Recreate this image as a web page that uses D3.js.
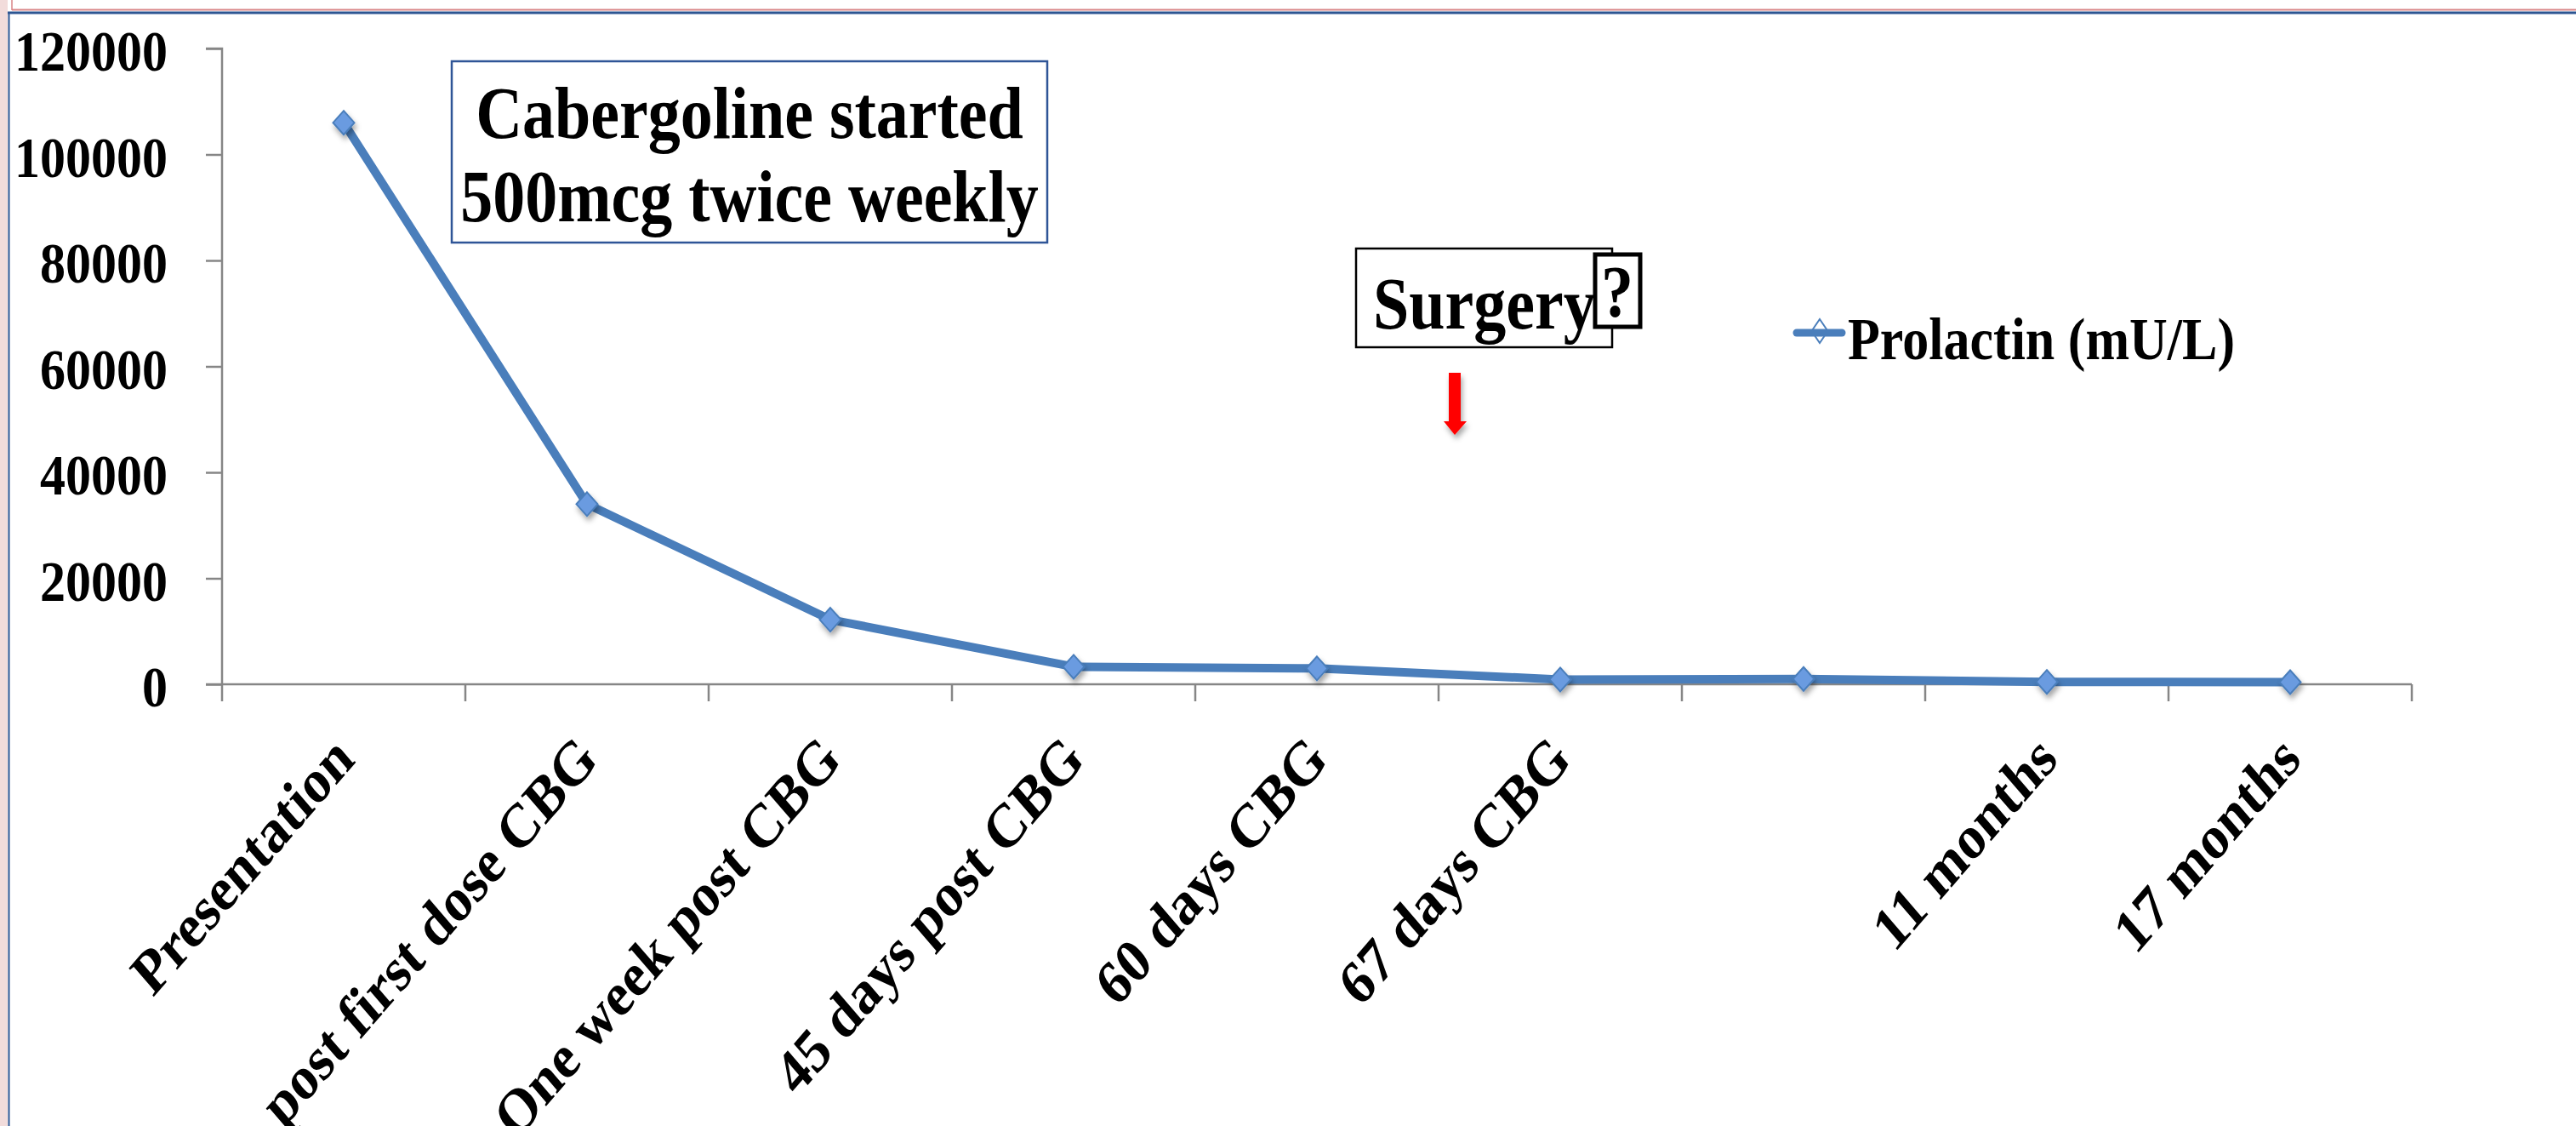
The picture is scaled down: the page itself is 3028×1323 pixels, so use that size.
<!DOCTYPE html>
<html>
<head>
<meta charset="utf-8">
<script src="https://cdn.jsdelivr.net/npm/d3@7"></script>
<style>
  html, body { margin: 0; padding: 0; background: #fff; }
  svg { display: block; }
  text { font-family: "Liberation Serif", "Times New Roman", serif; font-weight: bold; fill: #000; }
</style>
</head>
<body>
<div id="chart"></div>
<script>
// data
const categories = ['Presentation', 'post first dose CBG', 'One week post CBG', '45 days post CBG',
  '60 days CBG', '67 days CBG', '', '11 months', '17 months'];
const prolactin = [106000, 34000, 12200, 3300, 3000, 900, 1000, 450, 400];
const yTicks = [0, 20000, 40000, 60000, 80000, 100000, 120000];
const seriesName = 'Prolactin (mU/L)';
const noteLines = ['Cabergoline started', '500mcg twice weekly'];
const surgeryLabel = 'Surgery';

const W = 3028, H = 1323;
const SY = 1.13; // text in the picture is a little taller than wide
const blue = '#4a7ebb';

const svg = d3.select('#chart').append('svg')
  .attr('width', W).attr('height', H);

const defs = svg.append('defs');
defs.append('filter').attr('id', 'shadow')
  .attr('x', '-50%').attr('y', '-50%').attr('width', '200%').attr('height', '200%')
  .append('feDropShadow')
  .attr('dx', 2).attr('dy', 5).attr('stdDeviation', 3)
  .attr('flood-color', '#000').attr('flood-opacity', 0.35);

// frame bits round the slide
svg.append('rect').attr('x', 0).attr('y', 0).attr('width', 9).attr('height', H).attr('fill', '#f2dcdb');
svg.append('line').attr('x1', 14).attr('x2', W).attr('y1', 11.5).attr('y2', 11.5)
  .attr('stroke', '#d98587').attr('stroke-width', 2);
svg.append('line').attr('x1', 14).attr('x2', 14).attr('y1', 0).attr('y2', 12)
  .attr('stroke', '#d98587').attr('stroke-width', 1.5);
svg.append('line').attr('x1', 9).attr('x2', W).attr('y1', 15).attr('y2', 15)
  .attr('stroke', '#2c5592').attr('stroke-width', 3);
svg.append('line').attr('x1', 10.5).attr('x2', 10.5).attr('y1', 14).attr('y2', H)
  .attr('stroke', '#2c5592').attr('stroke-width', 2);

const x = d3.scaleBand().domain(d3.range(categories.length)).range([261, 2835]);
const y = d3.scaleLinear().domain([0, 120000]).range([804, 57]);
const cx = i => x(i) + x.bandwidth() / 2;

// y axis
const yAxis = svg.append('g')
  .attr('transform', `translate(${x.range()[0]},0)`)
  .call(d3.axisLeft(y).tickValues(yTicks).tickSize(19).tickFormat(''));
yAxis.selectAll('path, line').attr('stroke', '#868686').attr('stroke-width', 2.5);
yAxis.select('.domain').attr('d', `M-19,${y(120000)}H0V${y(0)}`);

svg.append('g').selectAll('text')
  .data(yTicks)
  .join('text')
  .attr('text-anchor', 'end')
  .attr('font-size', 60)
  .attr('transform', d => `translate(197,${y(d) + 26}) scale(1,${SY})`)
  .text(d => d);

// x axis, ticks on band edges
const xAxis = svg.append('g').attr('transform', `translate(0,${y(0)})`);
const edges = d3.range(categories.length + 1).map(i => x.range()[0] + i * x.bandwidth());
xAxis.append('line')
  .attr('x1', x.range()[0] - 19).attr('x2', x.range()[1])
  .attr('stroke', '#868686').attr('stroke-width', 2.5);
xAxis.selectAll('.xt')
  .data(edges)
  .join('line')
  .attr('class', 'xt')
  .attr('x1', d => d).attr('x2', d => d)
  .attr('y1', 0).attr('y2', 20)
  .attr('stroke', '#868686').attr('stroke-width', 2.5);

svg.append('g').selectAll('text')
  .data(categories)
  .join('text')
  .attr('text-anchor', 'end')
  .attr('font-size', 63)
  .attr('transform', (d, i) => `translate(${cx(i) + 15},895) scale(1,1.16) rotate(-45)`)
  .text(d => d);

// series line
const line = d3.line().x((d, i) => cx(i)).y(d => y(d));
svg.append('path')
  .datum(prolactin)
  .attr('d', line)
  .attr('fill', 'none')
  .attr('stroke', blue)
  .attr('stroke-width', 10)
  .attr('stroke-linejoin', 'round');

const diamond = (w, h) => `M0,${-h / 2}L${w / 2},0L0,${h / 2}L${-w / 2},0Z`;
svg.append('g').attr('filter', 'url(#shadow)')
  .selectAll('path')
  .data(prolactin)
  .join('path')
  .attr('transform', (d, i) => `translate(${cx(i)},${y(d)})`)
  .attr('d', diamond(25, 28))
  .attr('fill', '#6b9be0')
  .attr('stroke', blue)
  .attr('stroke-width', 2);

// legend
const lg = svg.append('g').attr('transform', 'translate(2108,391)');
lg.append('path').attr('transform', 'translate(31,-2)').attr('d', diamond(19, 28))
  .attr('fill', '#fff').attr('stroke', blue).attr('stroke-width', 2);
lg.append('line').attr('x1', 4).attr('x2', 57).attr('y1', 0).attr('y2', 0)
  .attr('stroke', blue).attr('stroke-width', 9).attr('stroke-linecap', 'round');
lg.append('text').attr('font-size', 62)
  .attr('transform', `translate(64,31) scale(1,${SY})`)
  .text(seriesName);

// Cabergoline note box
svg.append('rect').attr('x', 531).attr('y', 72).attr('width', 700).attr('height', 213)
  .attr('fill', '#fff').attr('stroke', '#2f5597').attr('stroke-width', 2.5);
svg.append('g').selectAll('text')
  .data(noteLines)
  .join('text')
  .attr('text-anchor', 'middle')
  .attr('font-size', 76)
  .attr('transform', (d, i) => `translate(881,${162 + i * 98}) scale(1,${SY})`)
  .text(d => d);

// Surgery box
svg.append('rect').attr('x', 1594).attr('y', 292).attr('width', 301).attr('height', 116)
  .attr('fill', '#fff').attr('stroke', '#000').attr('stroke-width', 2.5);
svg.append('text').attr('font-size', 76)
  .attr('transform', `translate(1614,386) scale(1,${SY})`)
  .text(surgeryLabel);
svg.append('rect').attr('x', 1875).attr('y', 299).attr('width', 53).attr('height', 85)
  .attr('fill', '#fff').attr('stroke', '#000').attr('stroke-width', 5);
svg.append('text').attr('font-size', 76).attr('text-anchor', 'middle')
  .attr('transform', `translate(1901,372) scale(1,${SY})`)
  .text('?');

// red arrow
svg.append('path')
  .attr('d', 'M1703,438H1717V495H1724L1710,511L1697,495H1703Z')
  .attr('fill', '#ff0000')
  .attr('filter', 'url(#shadow)');
</script>
</body>
</html>
